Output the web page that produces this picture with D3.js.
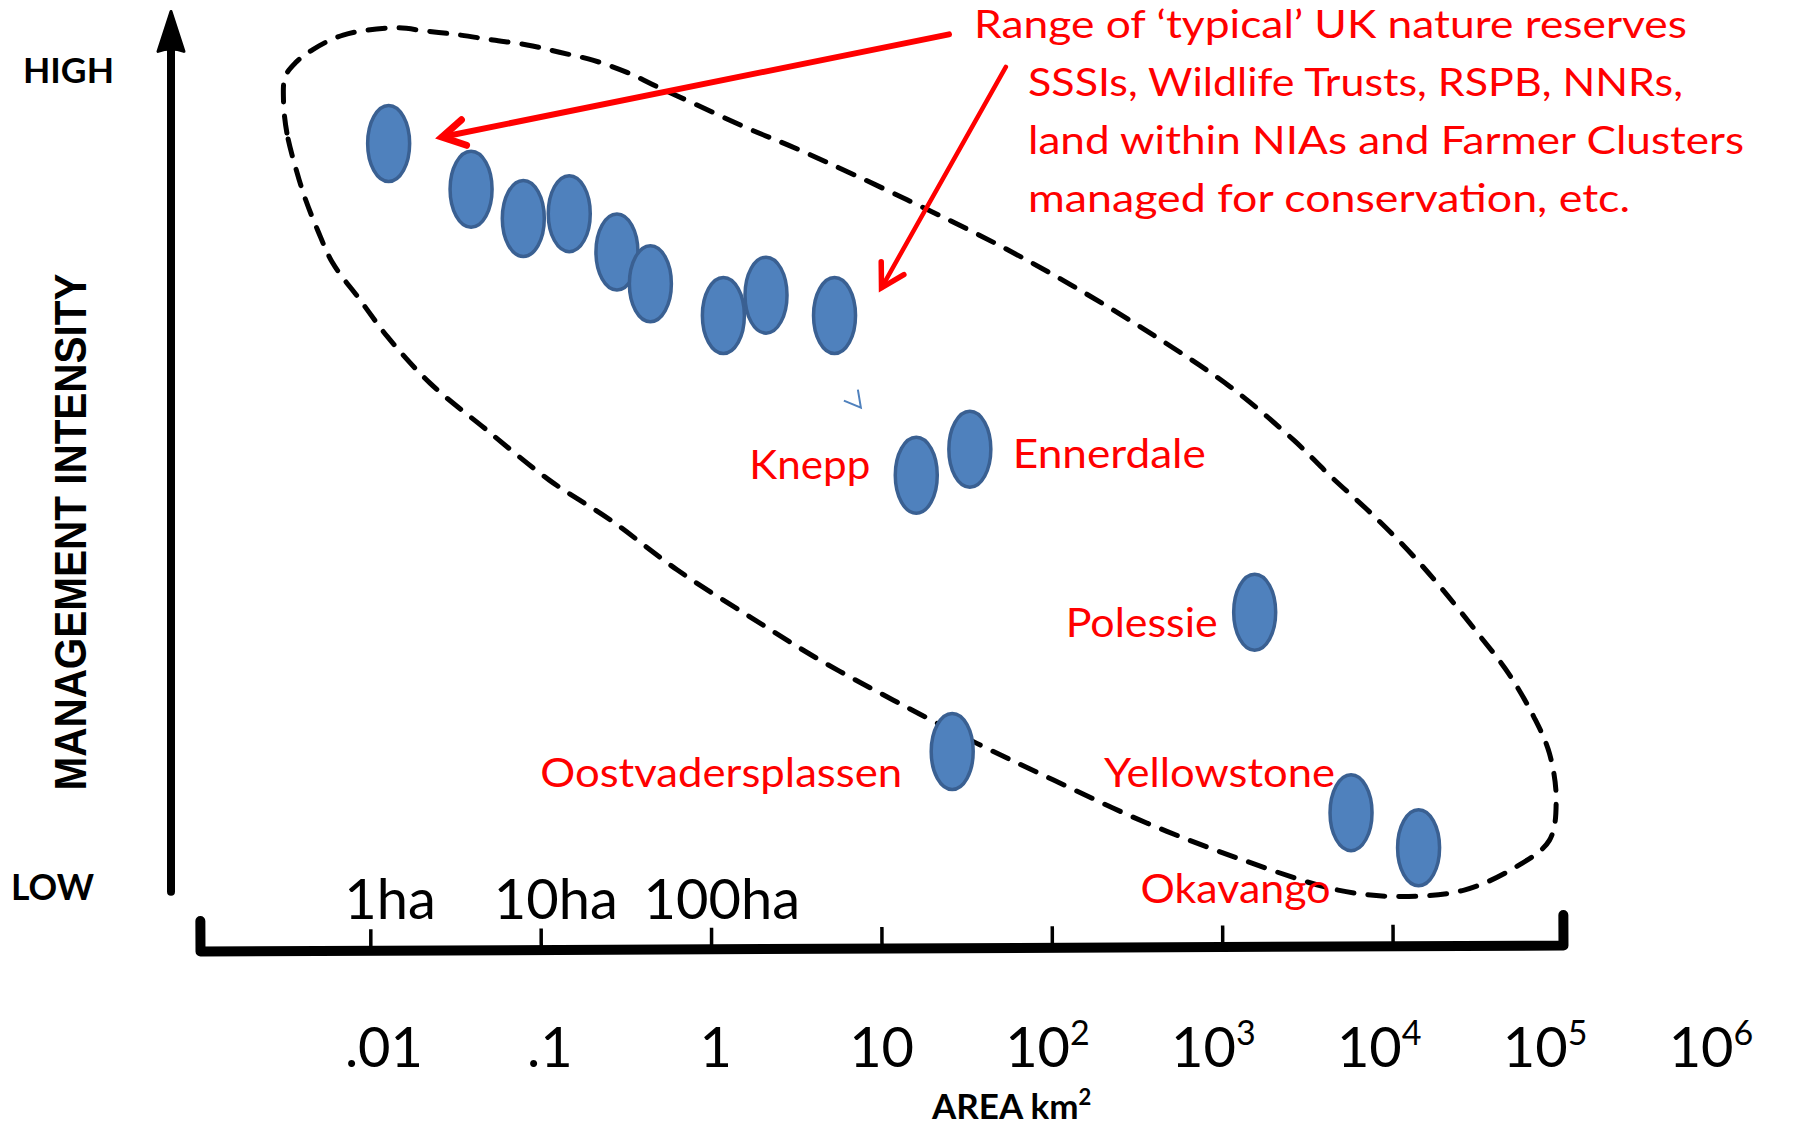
<!DOCTYPE html>
<html><head><meta charset="utf-8">
<script src="https://cdn.jsdelivr.net/npm/d3@7"></script>
<style>body{margin:0;background:#fff;} svg{display:block}</style>
</head><body>
<svg id="chart" width="1793" height="1128"></svg>
<script>
// ---------------- data ----------------
const siteNames = ["", "", "", "", "", "", "", "", "",
  "Knepp", "Ennerdale", "Polessie", "Oostvadersplassen", "Yellowstone", "Okavango"];
const siteArea = [0.0128, 0.039, 0.079, 0.147, 0.28, 0.44, 1.18, 2.1, 5.3,
  16, 33, 1550, 26, 5700, 14200];               // km²
const siteIntensity = [9.11, 8.55, 8.19, 8.25, 7.78, 7.39, 7.0, 7.25, 7.0,
  5.04, 5.36, 3.36, 1.65, 0.90, 0.47];          // 0 = LOW, 10 = HIGH

const areaTicks = [1e-3, 1e-2, 1e-1, 1, 10, 1e2, 1e3, 1e4, 1e5];
const areaLabelValues = [1e-2, 1e-1, 1, 10, 1e2, 1e3, 1e4, 1e5, 1e6];
const areaLabels = [".01", ".1", "1", "10", "10^2", "10^3", "10^4", "10^5", "10^6"];
const haValues = [1e-2, 1e-1, 1];
const haLabels = ["1ha", "10ha", "100ha"];

// envelope of "typical" range (log10 area, intensity)
const envelopeExp = [-2.43,-2.49,-2.51,-2.50,-2.44,-2.34,-2.16,-1.87,-1.67,-1.47,-1.28,-1.08,-0.89,-0.69,-0.49,-0.30,-0.11,0.20,0.52,1.15,1.71,2.19,2.64,3.05,3.42,3.64,3.87,4.09,4.28,4.50,4.68,4.83,4.92,4.96,4.92,4.72,4.42,4.05,3.68,3.12,2.56,2.01,1.56,1.07,0.64,0.23,-0.20,-0.59,-0.95,-1.32,-1.65,-1.90,-2.06,-2.22,-2.31,-2.38];
const envelopeIntensity = [8.75,9.24,9.64,9.93,10.10,10.26,10.44,10.53,10.49,10.44,10.38,10.32,10.23,10.13,9.98,9.79,9.61,9.31,9.03,8.42,7.84,7.28,6.70,6.12,5.47,5.02,4.58,4.12,3.67,3.10,2.61,2.07,1.63,1.06,0.56,0.23,-0.05,-0.13,-0.05,0.32,0.77,1.30,1.75,2.28,2.77,3.30,3.88,4.49,4.98,5.60,6.17,6.74,7.19,7.64,8.05,8.42];

// annotation arrows (log10 area, intensity)
const arrowFromExp = [1.396, 1.73];
const arrowFromIntensity = [10.45, 10.05];
const arrowToExp = [-1.58, 1.00];
const arrowToIntensity = [9.19, 7.34];

const noteLines = ["Range of \u2018typical\u2019 UK nature reserves",
  "SSSIs, Wildlife Trusts, RSPB, NNRs,",
  "land within NIAs and Farmer Clusters",
  "managed for conservation, etc."];

// ---------------- layout ----------------
const svg = d3.select("#chart");
const x = d3.scaleLog().domain([1e-3, 1e5]).range([200, 1563]);
const y = d3.scaleLinear().domain([0, 10]).range([886, 71]);
const xLab = d3.scaleLog().domain([1e-2, 1e6]).range([384, 1711]);
const FONT = "Lato, 'Open Sans', sans-serif";
const RED = "#ff0000";

// envelope
const envPts = envelopeExp.map((e, i) => [x(Math.pow(10, e)), y(envelopeIntensity[i])]);
svg.append("path")
  .attr("d", d3.line().curve(d3.curveCatmullRomClosed.alpha(0.5))(envPts))
  .attr("fill", "none").attr("stroke", "#000").attr("stroke-width", 5)
  .attr("stroke-linecap", "round").attr("stroke-dasharray", "17 14");

// y axis with arrow
svg.append("line").attr("x1", 171).attr("x2", 171)
  .attr("y1", y(-0.07)).attr("y2", y(10.4))
  .attr("stroke", "#000").attr("stroke-width", 8).attr("stroke-linecap", "round");
svg.append("path")
  .attr("d", `M171,${y(10.73)} L184,${y(10.24)} Q171,${y(10.3)} 158,${y(10.24)} Z`)
  .attr("fill", "#000").attr("stroke", "#000").attr("stroke-width", 3).attr("stroke-linejoin", "round");

// x axis
const xAxis = d3.axisBottom(x).tickValues(areaTicks).tickSize(-21).tickSizeOuter(-30).tickFormat("");
const gx = svg.append("g").attr("transform", "translate(0,951) rotate(-0.25 200 0)").call(xAxis);
gx.select(".domain").attr("stroke", "#000").attr("stroke-width", 10).attr("stroke-linejoin", "round").attr("stroke-linecap", "round");
gx.selectAll(".tick line").attr("stroke", "#000").attr("stroke-width", 3.5);

// x tick labels (km²)
areaLabels.forEach((lab, i) => {
  const [base, sup] = lab.split("^");
  const t = svg.append("text").attr("x", xLab(areaLabelValues[i])).attr("y", 1067)
    .attr("text-anchor", "middle").attr("font-family", FONT).attr("font-size", 56).attr("fill", "#000");
  t.append("tspan").text(base);
  if (sup) t.append("tspan").attr("dy", -22).attr("font-size", 34).text(sup);
});
// ha labels
haLabels.forEach((lab, i) => {
  svg.append("text").attr("x", xLab(haValues[i]) + 6).attr("y", 919)
    .attr("text-anchor", "middle").attr("font-family", FONT).attr("font-size", 56).attr("fill", "#000").text(lab);
});

// axis titles
svg.append("text").attr("x", 23).attr("y", 83).attr("font-family", FONT).attr("font-weight", 700)
  .attr("font-size", 35).attr("textLength", 91).attr("lengthAdjust", "spacingAndGlyphs").text("HIGH");
svg.append("text").attr("x", 11).attr("y", 900).attr("font-family", FONT).attr("font-weight", 700)
  .attr("font-size", 37).attr("textLength", 83).attr("lengthAdjust", "spacingAndGlyphs").text("LOW");
svg.append("text").attr("transform", "translate(86,532) rotate(-90)").attr("text-anchor", "middle")
  .attr("font-family", "'Liberation Sans', Arial, sans-serif").attr("font-weight", 700).attr("font-size", 44)
  .attr("textLength", 517).attr("lengthAdjust", "spacingAndGlyphs").text("MANAGEMENT INTENSITY");
const at = svg.append("text").attr("x", 932).attr("y", 1119).attr("font-family", FONT).attr("font-weight", 700)
  .attr("font-size", 35).attr("fill", "#000");
at.append("tspan").text("AREA km");
at.append("tspan").attr("dy", -14).attr("font-size", 22).text("2");

// arrows
arrowFromExp.forEach((e, i) => {
  const x1 = x(Math.pow(10, e)), y1 = y(arrowFromIntensity[i]);
  const x2 = x(Math.pow(10, arrowToExp[i])), y2 = y(arrowToIntensity[i]);
  const w = i === 0 ? 6 : 4.5;
  svg.append("line").attr("x1", x1).attr("y1", y1).attr("x2", x2).attr("y2", y2)
    .attr("stroke", RED).attr("stroke-width", w).attr("stroke-linecap", "round");
  const ang = Math.atan2(y1 - y2, x1 - x2), L = 26, a = Math.PI / 6;
  const p1 = [x2 + L * Math.cos(ang + a), y2 + L * Math.sin(ang + a)];
  const p2 = [x2 + L * Math.cos(ang - a), y2 + L * Math.sin(ang - a)];
  svg.append("path").attr("d", `M${p1} L${x2},${y2} L${p2}`).attr("fill", "none")
    .attr("stroke", RED).attr("stroke-width", w + 1).attr("stroke-linecap", "round").attr("stroke-linejoin", "miter");
});

// annotation text
const noteX = [974, 1028, 1028, 1028], noteW = [713, 655, 716, 602];
noteLines.forEach((s, i) => {
  svg.append("text").attr("x", noteX[i]).attr("y", 38 + i * 58).attr("font-family", FONT)
    .attr("font-size", 38).attr("fill", RED).attr("textLength", noteW[i])
    .attr("lengthAdjust", "spacingAndGlyphs").text(s);
});

// stray blue mark
{
  const mx = x(6.7), my = y(5.98);
  svg.append("path").attr("d", `M${mx + 6},${my - 9} L${mx + 9},${my + 9} L${mx - 8},${my + 2}`)
    .attr("fill", "none").attr("stroke", "#4f81bd").attr("stroke-width", 2);
}

// site ellipses
svg.append("g").selectAll("ellipse").data(siteArea).join("ellipse")
  .attr("cx", (d) => x(d)).attr("cy", (d, i) => y(siteIntensity[i]))
  .attr("rx", 21).attr("ry", 38)
  .attr("fill", "#4f81bd").attr("stroke", "#3a6092").attr("stroke-width", 3.5);

// site labels
const labelLayout = {
  "Knepp": {anchor: "end", dx: -46, dy: 4, w: 121},
  "Ennerdale": {anchor: "start", dx: 43, dy: 19, w: 193},
  "Polessie": {anchor: "end", dx: -37, dy: 25, w: 152},
  "Oostvadersplassen": {anchor: "end", dx: -50, dy: 35, w: 362},
  "Yellowstone": {anchor: "end", dx: -16, dy: -25.6, w: 231},
  "Okavango": {anchor: "end", dx: -88, dy: 55, w: 190}
};
siteNames.forEach((n, i) => {
  if (!n) return;
  const L = labelLayout[n];
  svg.append("text").attr("x", x(siteArea[i]) + L.dx).attr("y", y(siteIntensity[i]) + L.dy)
    .attr("text-anchor", L.anchor).attr("font-family", FONT).attr("font-size", 40).attr("fill", RED)
    .attr("textLength", L.w).attr("lengthAdjust", "spacingAndGlyphs").text(n);
});
</script>
</body></html>
